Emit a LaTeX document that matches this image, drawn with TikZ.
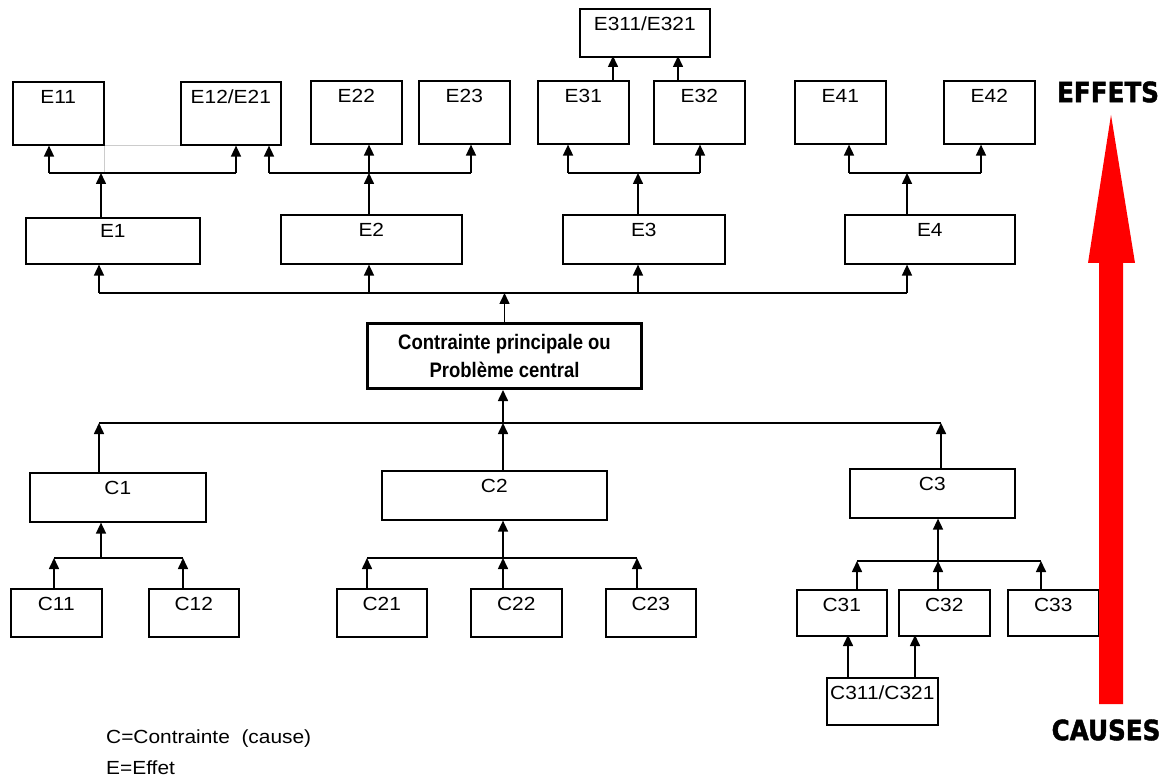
\documentclass[tikz,border=0pt]{standalone}
\usepackage{fontspec}
\setmainfont[FakeStretch=1.1]{Liberation Sans}
\newfontfamily\cpfont[FakeStretch=0.88]{Liberation Sans}
\newfontfamily\heavyfont[FakeStretch=0.88,FakeBold=1.5]{DejaVu Sans}
\usetikzlibrary{arrows.meta}

\begin{document}
\begin{tikzpicture}[x=1pt,y=-1pt,
  bx/.style 2 args={draw,line width=1.6pt,minimum width=#1pt,minimum height=#2pt,inner sep=0pt,anchor=north west},
  lb/.style={anchor=north,inner sep=0pt,yshift=-9pt,font=\fontsize{19}{23}\selectfont},
  ln/.style={line width=1.6pt},
  arr/.style={line width=1.6pt,-{Triangle[length=11pt,width=10pt]}},
  faint/.style={gray!40,line width=0.6pt}]
  \useasboundingbox (0,0) rectangle (1174,783);
  % effets
  \node[bx={130}{48},label={[lb]north:E311/E321}] (e311) at (579,8) {};
  \node[bx={91}{63},label={[lb]north:E11}] (e11) at (12,81) {};
  \node[bx={100}{63},label={[lb]north:E12/E21}] (e12) at (180,81) {};
  \node[bx={91}{63},label={[lb]north:E22}] (e22) at (310,80) {};
  \node[bx={91}{63},label={[lb]north:E23}] (e23) at (418,80) {};
  \node[bx={91}{63},label={[lb]north:E31}] (e31) at (537,80) {};
  \node[bx={91}{63},label={[lb]north:E32}] (e32) at (653,80) {};
  \node[bx={91}{63},label={[lb]north:E41}] (e41) at (794,80) {};
  \node[bx={91}{63},label={[lb]north:E42}] (e42) at (943,80) {};
  \node[bx={174}{46},label={[lb,yshift=2pt]north:E1}] (e1) at (25,217) {};
  \node[bx={181}{49},label={[lb]north:E2}] (e2) at (280,214) {};
  \node[bx={162}{49},label={[lb]north:E3}] (e3) at (562,214) {};
  \node[bx={170}{49},label={[lb]north:E4}] (e4) at (844,214) {};
  % probleme central
  \node[draw,line width=3pt,minimum width=274pt,minimum height=65pt,anchor=north west,align=center,
    font=\cpfont\bfseries\fontsize{21}{28}\selectfont] (cp) at (366,322) {Contrainte principale ou\\Problème central};
  % causes
  \node[bx={176}{49},label={[lb]north:C1}] (c1) at (29,472) {};
  \node[bx={225}{49},label={[lb]north:C2}] (c2) at (381,470) {};
  \node[bx={165}{49},label={[lb]north:C3}] (c3) at (849,468) {};
  \node[bx={91}{48},label={[lb]north:C11}] (c11) at (10,588) {};
  \node[bx={90}{48},label={[lb]north:C12}] (c12) at (148,588) {};
  \node[bx={90}{48},label={[lb]north:C21}] (c21) at (336,588) {};
  \node[bx={91}{48},label={[lb]north:C22}] (c22) at (470,588) {};
  \node[bx={90}{48},label={[lb]north:C23}] (c23) at (605,588) {};
  \node[bx={90}{46},label={[lb]north:C31}] (c31) at (796,589) {};
  \node[bx={91}{46},label={[lb]north:C32}] (c32) at (898,589) {};
  \node[bx={91}{46},label={[lb]north:C33}] (c33) at (1007,589) {};
  \node[bx={111}{47},label={[lb]north:C311/C321}] (c311) at (826,677) {};

  % bus des effets
  \coordinate (ta) at (99,293);
  \coordinate (tb) at (369,293);
  \coordinate (tc) at (638,293);
  \coordinate (td) at (907,293);
  \draw[ln] (ta) -- (td);
  \draw[arr] (cp.north) -- (cp.north |- ta);
  \draw[arr] (ta) -- (ta |- e1.south);
  \draw[arr] (tb) -- (tb |- e2.south);
  \draw[arr] (tc) -- (tc |- e3.south);
  \draw[arr] (td) -- (td |- e4.south);
  % E1
  \coordinate (a0) at (101,173);
  \coordinate (a1) at (49,173);
  \coordinate (a2) at (236,173);
  \draw[faint] (e11.south east) -- (e12.south west);
  \draw[faint] (e11.south east) -- (e11.south east |- a0);
  \draw[ln] (a1) -- (a2);
  \draw[arr] (a0 |- e1.north) -- (a0);
  \draw[arr] (a1) -- (a1 |- e11.south);
  \draw[arr] (a2) -- (a2 |- e12.south);
  % E2
  \coordinate (b0) at (369,173);
  \coordinate (b1) at (269,173);
  \coordinate (b2) at (471,173);
  \draw[ln] (b1) -- (b2);
  \draw[arr] (b0 |- e2.north) -- (b0);
  \draw[arr] (b1) -- (b1 |- e12.south);
  \draw[arr] (b0) -- (b0 |- e22.south);
  \draw[arr] (b2) -- (b2 |- e23.south);
  % E3
  \coordinate (d0) at (638,173);
  \coordinate (d1) at (568,173);
  \coordinate (d2) at (700,173);
  \draw[ln] (d1) -- (d2);
  \draw[arr] (d0 |- e3.north) -- (d0);
  \draw[arr] (d1) -- (d1 |- e31.south);
  \draw[arr] (d2) -- (d2 |- e32.south);
  \coordinate (g1) at (613,56);
  \coordinate (g2) at (678,56);
  \draw[arr] (g1 |- e31.north) -- (g1);
  \draw[arr] (g2 |- e32.north) -- (g2);
  % E4
  \coordinate (f0) at (907,173);
  \coordinate (f1) at (849,173);
  \coordinate (f2) at (981,173);
  \draw[ln] (f1) -- (f2);
  \draw[arr] (f0 |- e4.north) -- (f0);
  \draw[arr] (f1) -- (f1 |- e41.south);
  \draw[arr] (f2) -- (f2 |- e42.south);

  % bus des causes
  \coordinate (ka) at (99,423);
  \coordinate (kb) at (941,423);
  \coordinate (kc) at (503,423);
  \draw[ln] (ka) -- (kb);
  \draw[arr] (ka |- c1.north) -- (ka);
  \draw[arr] (kb |- c3.north) -- (kb);
  \draw[arr] (kc |- c2.north) -- (kc);
  \draw[arr] (kc) -- (kc |- cp.south);
  % C1
  \coordinate (m0) at (101,558);
  \coordinate (m1) at (54,558);
  \coordinate (m2) at (183,558);
  \draw[ln] (m1) -- (m2);
  \draw[arr] (m0) -- (m0 |- c1.south);
  \draw[arr] (m1 |- c11.north) -- (m1);
  \draw[arr] (m2 |- c12.north) -- (m2);
  % C2
  \coordinate (n0) at (503,558);
  \coordinate (n1) at (367,558);
  \coordinate (n2) at (637,558);
  \draw[ln] (n1) -- (n2);
  \draw[arr] (n0) -- (n0 |- c2.south);
  \draw[arr] (n1 |- c21.north) -- (n1);
  \draw[arr] (n0 |- c22.north) -- (n0);
  \draw[arr] (n2 |- c23.north) -- (n2);
  % C3
  \coordinate (p0) at (938,561);
  \coordinate (p1) at (857,561);
  \coordinate (p2) at (1041,561);
  \draw[ln] (p1) -- (p2);
  \draw[arr] (p0) -- (p0 |- c3.south);
  \draw[arr] (p1 |- c31.north) -- (p1);
  \draw[arr] (p0 |- c32.north) -- (p0);
  \draw[arr] (p2 |- c33.north) -- (p2);
  \coordinate (q1) at (848,635);
  \coordinate (q2) at (915,635);
  \draw[arr] (q1 |- c311.north) -- (q1);
  \draw[arr] (q2 |- c311.north) -- (q2);

  % fleche rouge
  \fill[red] (1099,704) -- (1123,704) -- (1123,263) -- (1135,263) -- (1111,115)
    -- (1088,263) -- (1099,263) -- cycle;
  \node[font=\heavyfont\bfseries\fontsize{28}{30}\selectfont,inner sep=0pt] (effets) at (1108,92) {EFFETS};
  \node[font=\heavyfont\bfseries\fontsize{28}{30}\selectfont,inner sep=0pt] (causes) at (1106,730) {CAUSES};
  % legende
  \node[anchor=base west,inner sep=0pt,font=\fontsize{19}{23}\selectfont] (lc) at (106,743) {C=Contrainte~~(cause)};
  \node[anchor=base west,inner sep=0pt,font=\fontsize{19}{23}\selectfont] (le) at (106,774) {E=Effet};
\end{tikzpicture}
\end{document}
